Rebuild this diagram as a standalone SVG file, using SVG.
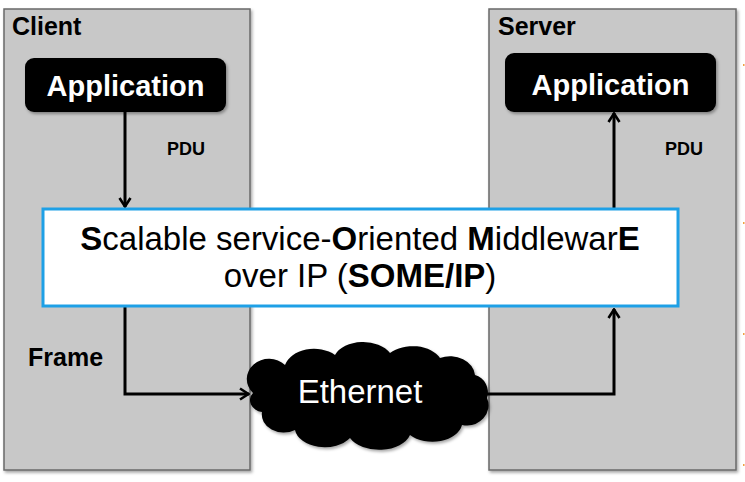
<svg xmlns="http://www.w3.org/2000/svg" width="745" height="482" viewBox="0 0 745 482">
<defs>
<style>
.side{fill:#c8c8c8;stroke:#6a6a6a;stroke-width:1.5}
.app{fill:#000}
.apptxt{font-family:"Liberation Sans",Arial,sans-serif;font-weight:bold;font-size:29px;fill:#fff;text-anchor:middle}
.title{font-family:"Liberation Sans",Arial,sans-serif;font-weight:bold;font-size:25px;fill:#000}
.pdu{font-family:"Liberation Sans",Arial,sans-serif;font-weight:bold;font-size:18px;fill:#000}
.main{font-family:"Liberation Sans",Arial,sans-serif;font-size:33px;fill:#000;text-anchor:middle}
.b{font-weight:bold}
.conn{fill:none;stroke:#000;stroke-width:3;stroke-linejoin:miter}
.dot{fill:#f0a040}
</style>
<marker id="arr" viewBox="0 0 12 14" refX="11" refY="7" markerWidth="12" markerHeight="14" markerUnits="userSpaceOnUse" orient="auto">
<path d="M2,1.5 L10.5,7 L2,12.5" fill="none" stroke="#000" stroke-width="2.6"/>
</marker>
<filter id="sh" x="-10%" y="-10%" width="130%" height="140%">
<feDropShadow dx="1.5" dy="2" stdDeviation="1.5" flood-color="#000" flood-opacity="0.35"/>
</filter>
</defs>

<g id="client">
<rect class="side" x="4" y="9" width="246" height="461" filter="url(#sh)"/>
<text class="title" x="12" y="35">Client</text>
</g>
<g id="server">
<rect class="side" x="489" y="9" width="247" height="461" filter="url(#sh)"/>
<text class="title" x="498" y="35">Server</text>
</g>

<g id="client-app">
<rect class="app" x="25" y="58" width="201" height="54" rx="9" filter="url(#sh)"/>
<text class="apptxt" x="125.5" y="96">Application</text>
</g>
<g id="server-app">
<rect class="app" x="505" y="53" width="211" height="59" rx="9" filter="url(#sh)"/>
<text class="apptxt" x="610.5" y="95">Application</text>
</g>

<g id="connectors">
<path class="conn" d="M125,112 V207" marker-end="url(#arr)"/>
<path class="conn" d="M125,307 V394 H249" marker-end="url(#arr)"/>
<path class="conn" d="M486,394 H614 V309" marker-end="url(#arr)"/>
<path class="conn" d="M614,209 V113" marker-end="url(#arr)"/>
</g>

<g id="labels">
<text class="pdu" x="167" y="155">PDU</text>
<text class="pdu" x="665" y="155">PDU</text>
<text class="title" x="28" y="366">Frame</text>
</g>

<g id="someip">
<rect x="43" y="209" width="635" height="97" fill="#fff" stroke="#1ea0e6" stroke-width="3"/>
<text class="main" x="360" y="250"><tspan class="b">S</tspan>calable service-<tspan class="b">O</tspan>riented <tspan class="b">M</tspan>iddlewar<tspan class="b">E</tspan></text>
<text class="main" x="360" y="287">over IP (<tspan class="b">SOME/IP</tspan>)</text>
</g>

<g id="ethernet">
<path fill="#000" filter="url(#sh)" d="M253,393 A22 20 0 0 1 285,365 A30 22 0 0 1 335,355 A30 20 0 0 1 390,353 A30 20 0 0 1 440,358 A25 20 0 0 1 475,375 A18 18 0 0 1 487,398 A22 20 0 0 1 462,425 A30 20 0 0 1 410,435 A32 20 0 0 1 350,438 A30 20 0 0 1 295,430 A22 18 0 0 1 262,412 A15 12 0 0 1 253,393 Z"/>
<text x="360" y="403" font-family="Liberation Sans, Arial, sans-serif" font-size="33" fill="#fff" text-anchor="middle">Ethernet</text>
</g>

<rect class="dot" x="743" y="64" width="1.5" height="2"/>
<rect class="dot" x="743" y="222" width="1.5" height="2"/>
<rect class="dot" x="743" y="333" width="1.5" height="2"/>
<rect class="dot" x="743" y="464" width="1.5" height="2"/>
</svg>
